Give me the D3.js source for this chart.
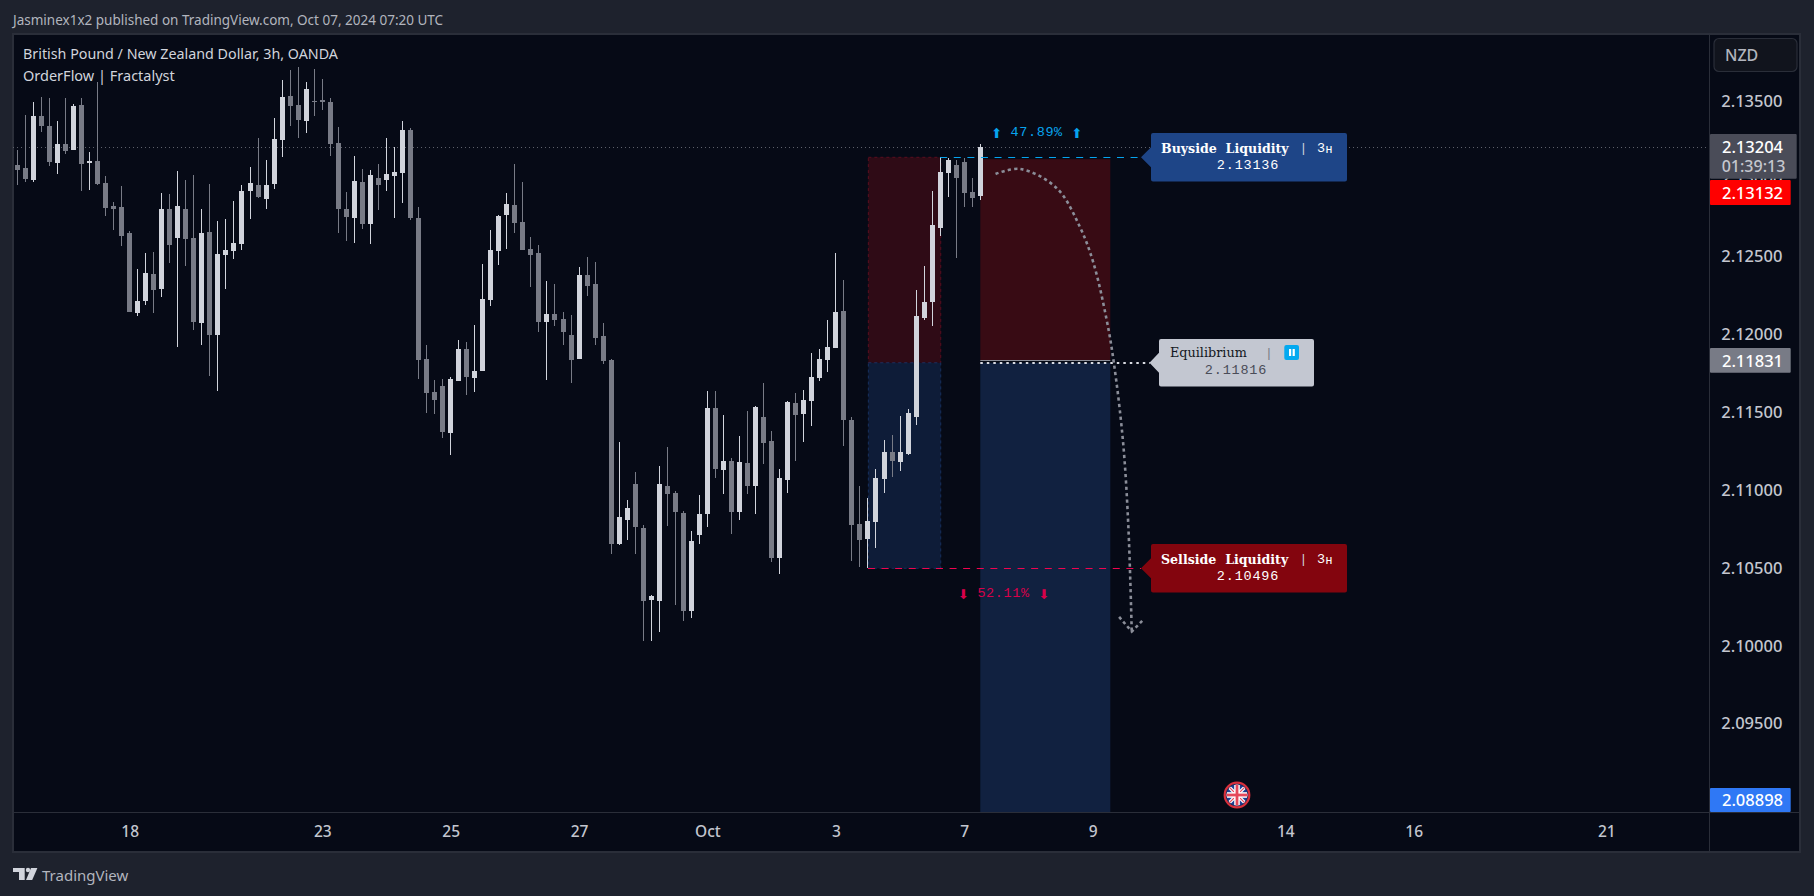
<!DOCTYPE html>
<html><head><meta charset="utf-8">
<script src="https://cdn.jsdelivr.net/npm/d3@7"></script>
<style>html,body{margin:0;padding:0;background:#1e222d;overflow:hidden}svg{display:block}</style>
</head><body><svg id="c" width="1814" height="896"></svg>
<script>
const opens=[2.13087,2.13068,2.12991,2.13402,2.13337,2.13100,2.13222,2.13183,2.13472,2.13100,
2.13113,2.12971,2.12824,2.12817,2.12650,2.12136,2.12213,2.12387,2.12290,2.12804,
2.12618,2.12804,2.12618,2.12072,2.12657,2.11995,2.12509,2.12535,2.12579,2.12920,
2.12958,2.12869,2.12965,2.13247,2.13530,2.13472,2.13370,2.13498,2.13504,2.13492,
2.13228,2.12804,2.12746,2.12978,2.12708,2.13003,2.12991,2.13016,2.13036,2.13312,
2.12746,2.11841,2.11628,2.11667,2.11365,2.11697,2.11904,2.11717,2.11762,2.12218,
2.12533,2.12766,2.12829,2.12720,2.12546,2.12520,2.12077,2.12129,2.12097,2.11995,
2.11841,2.12379,2.12321,2.11988,2.11834,2.10650,2.10805,2.11037,2.10755,2.10292,
2.10285,2.11024,2.10978,2.10850,2.10220,2.10709,2.10844,2.11526,2.11126,2.11185,
2.10857,2.11172,2.11024,2.11467,2.11313,2.10561,2.11063,2.11556,2.11487,2.11569,
2.11717,2.11834,2.11910,2.12149,2.11448,2.10780,2.10684,2.10793,2.11069,2.11243,
2.11179,2.11230,2.11468,2.12103,2.12206,2.12682,2.13035,2.13086,2.13105,2.12913,2.12887];
const closes=[2.13055,2.12997,2.13402,2.13337,2.13106,2.13222,2.13177,2.13466,2.13093,2.13113,
2.12965,2.12811,2.12804,2.12631,2.12143,2.12213,2.12393,2.12284,2.12804,2.12573,
2.12824,2.12612,2.12078,2.12650,2.11995,2.12515,2.12541,2.12586,2.12920,2.12971,
2.12881,2.12958,2.13254,2.13524,2.13466,2.13376,2.13575,2.13492,2.13492,2.13222,
2.12804,2.12753,2.12984,2.12708,2.13023,2.12958,2.13029,2.13042,2.13312,2.12746,
2.11834,2.11621,2.11576,2.11371,2.11710,2.11904,2.11723,2.11762,2.12225,2.12540,
2.12759,2.12835,2.12714,2.12540,2.12507,2.12077,2.12129,2.12090,2.12012,2.11834,
2.12379,2.12308,2.11975,2.11828,2.10650,2.10824,2.10883,2.10759,2.10285,2.10316,
2.11037,2.10972,2.10857,2.10220,2.10670,2.10844,2.11526,2.11132,2.11185,2.10857,
2.11178,2.11024,2.11530,2.11300,2.10561,2.11074,2.11563,2.11480,2.11576,2.11723,
2.11841,2.11917,2.12142,2.11447,2.10774,2.10678,2.10800,2.11076,2.11243,2.11185,
2.11243,2.11493,2.12116,2.12206,2.12701,2.13041,2.13118,2.13003,2.12906,2.12874,2.13204];
const highs=[2.13183,2.13408,2.13492,2.13524,2.13517,2.13370,2.13517,2.13479,2.13517,2.13170,
2.13620,2.13016,2.12849,2.12952,2.12663,2.12419,2.12522,2.12528,2.12907,2.12901,
2.13048,2.12991,2.13023,2.12804,2.12965,2.12727,2.12740,2.12856,2.12958,2.13074,
2.13260,2.13119,2.13389,2.13633,2.13697,2.13716,2.13620,2.13704,2.13639,2.13517,
2.13331,2.12913,2.13145,2.13061,2.13055,2.13093,2.13260,2.13203,2.13370,2.13325,
2.12816,2.11930,2.11704,2.11710,2.11723,2.11962,2.11949,2.12058,2.12451,2.12668,
2.12766,2.12907,2.13092,2.12977,2.12622,2.12573,2.12340,2.12321,2.12142,2.12123,
2.12431,2.12494,2.12462,2.12071,2.11841,2.11306,2.10933,2.11113,2.10772,2.10322,
2.11152,2.11274,2.10991,2.10863,2.10735,2.10965,2.11634,2.11634,2.11480,2.11204,
2.11345,2.11506,2.11536,2.11686,2.11376,2.11132,2.11569,2.11621,2.11641,2.11877,
2.11904,2.12090,2.12520,2.12347,2.11468,2.11024,2.10947,2.11134,2.11320,2.11352,
2.11474,2.11519,2.12283,2.12437,2.12919,2.13138,2.13131,2.13118,2.13131,2.13003,2.13221];
const lows=[2.12958,2.12978,2.12978,2.13299,2.13080,2.13029,2.13158,2.13183,2.12920,2.12926,
2.12958,2.12759,2.12669,2.12567,2.12143,2.12117,2.12188,2.12136,2.12239,2.12457,
2.11918,2.12438,2.12027,2.11931,2.11732,2.11635,2.12290,2.12483,2.12541,2.12740,
2.12875,2.12804,2.12933,2.13138,2.13337,2.13260,2.13292,2.13402,2.13440,2.13145,
2.12650,2.12599,2.12586,2.12676,2.12579,2.12798,2.12920,2.12746,2.12843,2.12734,
2.11710,2.11493,2.11487,2.11332,2.11222,2.11697,2.11608,2.11628,2.11762,2.12179,
2.12444,2.12546,2.12649,2.12540,2.12303,2.12012,2.11704,2.12051,2.11930,2.11686,
2.11841,2.12245,2.11930,2.11808,2.10587,2.10644,2.10676,2.10587,2.10029,2.10029,
2.10086,2.10765,2.10259,2.10155,2.10175,2.10650,2.10759,2.11074,2.10972,2.10715,
2.10805,2.10972,2.10844,2.11165,2.10535,2.10457,2.10978,2.11185,2.11306,2.11408,
2.11697,2.11756,2.11910,2.11280,2.10543,2.10504,2.10498,2.10626,2.10979,2.11082,
2.11121,2.11224,2.11416,2.12091,2.12052,2.12630,2.12881,2.12489,2.12816,2.12816,2.12861];

const priceTicks=[2.135,2.13,2.125,2.12,2.115,2.11,2.105,2.10,2.095];
const dateBars=[14,38,54,70,86,102,118,134,158,174,198];
const dateLabels=["18","23","25","27","Oct","3","7","9","14","16","21"];
const buyside=2.13136, equilibrium=2.11816, sellside=2.10496, lastPrice=2.13204, zoneBottom=2.08898;
const leftZoneBars=[106.05,115.07], rightZoneBars=[120,136.2];
const pathBars=[121.9,124.95,129.5,132.4,134.1,135.75,136.65,137.8,138.45,138.87];
const pathPrices=[2.13029,2.13061,2.12939,2.12690,2.12457,2.12091,2.11813,2.11301,2.10763,2.10090];
const arrowBars=[137.3,138.87,140.4], arrowPrices=[2.10184,2.10090,2.10170];

const UI='"Noto Sans",sans-serif', MONO='"Liberation Mono",monospace', SERIF='"DejaVu Serif",serif';
const UP='#d1d4dc', DOWN='#787b86', BG='#060a16', FRAME='#1e222d', LINE='#2a2e39';
const PANE={l:13,r:1800,t:34,b:852}, AX={x:1709,y:812};

const x=d3.scaleLinear().domain([0,120]).range([17.3,980.3]);
const y=d3.scaleLinear().domain([buyside,sellside]).range([157.3,568.3]);
const snap=v=>Math.round(v)+.5;
const svg=d3.select('#c');
const text=(g,px,py,s,o={})=>g.append('text').attr('x',px).attr('y',py).text(s)
  .attr('font-family',o.f||UI).attr('font-size',o.s||13).attr('fill',o.c||'#b2b5be')
  .attr('font-weight',o.w||400).attr('text-anchor',o.a||'start').attr('dominant-baseline','central')
  .attr('letter-spacing',o.ls||null).attr('xml:space','preserve').style('white-space','pre');

// frame
svg.append('rect').attr('width',1814).attr('height',896).attr('fill',FRAME);
svg.append('rect').attr('x',PANE.l).attr('y',PANE.t).attr('width',PANE.r-PANE.l).attr('height',PANE.b-PANE.t)
  .attr('fill',BG).attr('stroke',LINE).attr('stroke-width',2);
text(svg,13,19.5,'Jasminex1x2 published on TradingView.com, Oct 07, 2024 07:20 UTC',{s:13.5,c:'#b2b5be'});

const defs=svg.append('defs');
defs.append('clipPath').attr('id','plot').append('rect').attr('x',PANE.l).attr('y',PANE.t+1).attr('width',AX.x-PANE.l).attr('height',AX.y-PANE.t-1);
const plot=svg.append('g').attr('clip-path','url(#plot)');

// last-price dotted line
plot.append('line').attr('x1',PANE.l).attr('x2',AX.x).attr('y1',snap(y(lastPrice))).attr('y2',snap(y(lastPrice)))
  .attr('stroke','#5d606b').attr('stroke-dasharray','1 3');

// zones
const zone=(bars,p0,p1,fill,stroke)=>{const r=plot.append('rect').attr('x',x(bars[0])).attr('width',x(bars[1])-x(bars[0]))
  .attr('y',y(p0)).attr('height',y(p1)-y(p0)).attr('fill',fill);
  if(stroke) r.attr('stroke',stroke).attr('stroke-dasharray','3 3');return r;};
zone(leftZoneBars,buyside,equilibrium,'#2f0b16','#5a0d1f');
zone(leftZoneBars,equilibrium,sellside,'#0e1c38','#17305f');
zone(rightZoneBars,buyside-0.00012,equilibrium+0.00014,'#380b14');
zone(rightZoneBars,equilibrium,zoneBottom-0.001,'#112140');
plot.append('line').attr('x1',x(rightZoneBars[0])).attr('x2',x(rightZoneBars[1])).attr('y1',snap(y(equilibrium))-3).attr('y2',snap(y(equilibrium))-3)
  .attr('stroke','#8a8d98').attr('stroke-width',1);

// candles
const idx=d3.range(opens.length);
const cg=plot.append('g').attr('shape-rendering','crispEdges');
cg.selectAll('rect.w').data(idx).join('rect').attr('class','w')
  .attr('x',i=>Math.round(x(i)-.5)).attr('width',1)
  .attr('y',i=>y(highs[i])).attr('height',i=>y(lows[i])-y(highs[i]))
  .attr('fill',i=>closes[i]>opens[i]?UP:DOWN);
cg.selectAll('rect.b').data(idx).join('rect').attr('class','b')
  .attr('x',i=>Math.round(x(i)-2.5)).attr('width',5)
  .attr('y',i=>y(Math.max(opens[i],closes[i])))
  .attr('height',i=>Math.max(1,Math.abs(y(opens[i])-y(closes[i]))))
  .attr('fill',i=>closes[i]>opens[i]?UP:DOWN);

// level lines
const TIP=1141;
plot.append('line').attr('x1',x(115)).attr('x2',TIP).attr('y1',snap(y(buyside))).attr('y2',snap(y(buyside))).attr('stroke','#06a4ee').attr('stroke-dasharray','7 6.6');
plot.append('line').attr('x1',x(106)).attr('x2',TIP).attr('y1',snap(y(sellside))).attr('y2',snap(y(sellside))).attr('stroke','#f00450').attr('stroke-dasharray','7 6.6');
plot.append('line').attr('x1',x(120)).attr('x2',1150).attr('y1',Math.round(y(equilibrium))).attr('y2',Math.round(y(equilibrium))).attr('stroke','#d9dbe2').attr('stroke-width',2).attr('stroke-dasharray','2.5 4');

// projected path
const ln=d3.line().x(d=>x(d[0])).y(d=>y(d[1]));
plot.append('path').attr('d',ln.curve(d3.curveCatmullRom.alpha(.5))(pathBars.map((b,i)=>[b,pathPrices[i]])))
  .attr('fill','none').attr('stroke','#8b8e99').attr('stroke-width',2.6).attr('stroke-dasharray','3.2 3.2');
plot.append('path').attr('d',d3.line().x(d=>x(d[0])).y(d=>y(d[1]))(arrowBars.map((b,i)=>[b,arrowPrices[i]])))
  .attr('fill','none').attr('stroke','#8b8e99').attr('stroke-width',2.6).attr('stroke-dasharray','3.2 3');

// callouts
const callout=(x0,x1,yc,h,tip,fill)=>{const t=yc-h/2,b=yc+h/2,r=2;
  svg.append('path').attr('fill',fill).attr('d',`M${x0+r},${t}H${x1-r}Q${x1},${t} ${x1},${t+r}V${b-r}Q${x1},${b} ${x1-r},${b}H${x0+r}Q${x0},${b} ${x0},${b-r}V${yc+10}L${tip},${yc}L${x0},${yc-10}V${t+r}Q${x0},${t} ${x0+r},${t}Z`);};
callout(1151,1347,y(buyside),48.5,TIP,'#1e4587');
callout(1159,1314,y(equilibrium),47.5,1149.5,'#c3c7d1');
callout(1151,1347,y(sellside),48.5,TIP,'#83050e');
const heading=(cy,name)=>{
  text(svg,1161,cy,name,{f:SERIF,s:12.6,w:700,c:'#ffffff'});
  text(svg,1299.5,cy,'|',{f:MONO,s:13,c:'#d1d4dc'});
  text(svg,1317,cy,'3',{f:MONO,s:13.5,c:'#ffffff'});
  text(svg,1325.5,cy+.5,'H',{f:MONO,s:11.5,c:'#ffffff'});
};
heading(148.5,'Buyside  Liquidity');
text(svg,1248,165.5,'2.13136',{f:MONO,s:13.5,c:'#ffffff',a:'middle',ls:'.8px'});
heading(559.5,'Sellside  Liquidity');
text(svg,1248,576.5,'2.10496',{f:MONO,s:13.5,c:'#ffffff',a:'middle',ls:'.8px'});
text(svg,1170,352.5,'Equilibrium',{f:SERIF,s:12.8,c:'#131722',w:500});
text(svg,1265,353,'|',{f:MONO,s:13,c:'#787b86'});
text(svg,1236,370,'2.11816',{f:MONO,s:13.5,c:'#4a4c58',a:'middle',ls:'.8px'});
svg.append('rect').attr('x',1284.3).attr('y',345).attr('width',14.7).attr('height',15).attr('rx',2).attr('fill','#03a9f0');
[1289,1292.6].forEach(px=>svg.append('rect').attr('x',px).attr('y',349).attr('width',2.2).attr('height',7).attr('fill','#fff'));

// percentage labels
const pct=(xa,xb,xc,py,lab,arrow,c)=>{
  text(svg,xa,py,arrow,{f:'"DejaVu Sans"',s:13.5,c,a:'middle'});
  text(svg,xb,py,arrow,{f:'"DejaVu Sans"',s:13.5,c,a:'middle'});
  text(svg,xc,py,lab,{f:MONO,s:13.5,c,a:'middle',ls:'.6px'});
};
pct(996.7,1077,1036.7,132.5,'47.89%','⬆','#06a4ee');
pct(963.3,1044,1003.5,593.5,'52.11%','⬇','#d9004a');

// flag event marker
const fl=svg.append('g').attr('transform','translate(1237,795)');
defs.append('clipPath').attr('id','flag').append('circle').attr('r',10.5);
fl.append('circle').attr('r',12.3).attr('fill','#1b2a55').attr('stroke','#d9303c').attr('stroke-width',2.2);
const ff=fl.append('g').attr('clip-path','url(#flag)');
ff.append('rect').attr('x',-11).attr('y',-11).attr('width',22).attr('height',22).attr('fill','#1c3f94');
[[-11,-11,11,11],[-11,11,11,-11]].forEach(d=>{
  ff.append('line').attr('x1',d[0]).attr('y1',d[1]).attr('x2',d[2]).attr('y2',d[3]).attr('stroke','#fff').attr('stroke-width',3.4);
  ff.append('line').attr('x1',d[0]).attr('y1',d[1]).attr('x2',d[2]).attr('y2',d[3]).attr('stroke','#e5485a').attr('stroke-width',1.2);});
ff.append('rect').attr('x',-11).attr('y',-2.8).attr('width',22).attr('height',5.6).attr('fill','#fff');
ff.append('rect').attr('x',-2.8).attr('y',-11).attr('width',5.6).attr('height',22).attr('fill','#fff');
ff.append('rect').attr('x',-11).attr('y',-1.4).attr('width',22).attr('height',2.8).attr('fill','#e5485a');
ff.append('rect').attr('x',-1.4).attr('y',-11).attr('width',2.8).attr('height',22).attr('fill','#e5485a');

// separators
svg.append('line').attr('x1',AX.x+.5).attr('x2',AX.x+.5).attr('y1',PANE.t).attr('y2',PANE.b).attr('stroke',LINE);
svg.append('line').attr('x1',PANE.l).attr('x2',PANE.r).attr('y1',AX.y+.5).attr('y2',AX.y+.5).attr('stroke',LINE);

// axes
const xAxis=d3.axisBottom(d3.scaleLinear().domain(x.domain()).range(x.range())).tickValues(dateBars)
  .tickFormat((d,i)=>dateLabels[i]).tickSize(0).tickPadding(0);
const gx=svg.append('g').attr('transform',`translate(0,${AX.y})`).call(xAxis);
gx.select('.domain').remove();
gx.selectAll('text').attr('y',19).attr('dy','0').attr('dominant-baseline','central').attr('font-family',UI).attr('font-size',15.5).attr('font-weight',500).attr('fill','#c3c6cf');
const yAxis=d3.axisRight(y).tickValues(priceTicks).tickFormat(d3.format('.5f')).tickSize(0).tickPadding(0);
const gy=svg.append('g').attr('transform',`translate(${AX.x},0)`).call(yAxis);
gy.select('.domain').remove();
gy.selectAll('text').attr('x',42.8).attr('y',-1).attr('dy','0').attr('text-anchor','middle').attr('dominant-baseline','central').attr('font-family',UI).attr('font-size',16.5).attr('font-weight',500).attr('fill','#c3c6cf');

// NZD button
svg.append('rect').attr('x',1714).attr('y',38.5).attr('width',83).attr('height',33).attr('rx',5).attr('fill','#11141d').attr('stroke',LINE).attr('stroke-width',1.2);
text(svg,1725,54.5,'NZD',{s:16,w:500,c:'#b2b5be'});

// price tags
const tag=(y0,y1,x1,fill)=>svg.append('rect').attr('x',1710).attr('y',y0).attr('width',x1-1710).attr('height',y1-y0).attr('rx',1).attr('fill',fill);
const tagText=(yc,s,c)=>text(svg,1752.5,yc,s,{s:16.5,w:500,c:c||'#ffffff',a:'middle'});
tag(134,178.7,1796.7,'#4a4c58');
tagText(146,'2.13204');
text(svg,1753.5,166,'01:39:13',{s:16,w:500,c:'#c5c7cf',a:'middle'});
tag(180,205,1790.7,'#ff0000');
tagText(192,'2.13132');
tag(348,372.7,1790.7,'#787b86');
tagText(360,'2.11831');
tag(788,812,1790.7,'#2f78f5');
tagText(799.5,'2.08898');

// legend
text(svg,23,53.5,'British Pound / New Zealand Dollar, 3h, OANDA',{s:14.3,c:'#d1d4dc'});
text(svg,23,74.5,'OrderFlow | Fractalyst',{s:14.5,c:'#d1d4dc'});

// logo
const lg=svg.append('g').attr('fill','#d1d4dc');
lg.append('path').attr('d','M13,868H24.7V880H19V872H13Z');
lg.append('circle').attr('cx',28).attr('cy',870).attr('r',2.2);
lg.append('path').attr('d','M31,868H37.4L32.2,880H26Z');
text(svg,42,875,'TradingView',{s:15,c:'#b2b5be'});
</script></body></html>
